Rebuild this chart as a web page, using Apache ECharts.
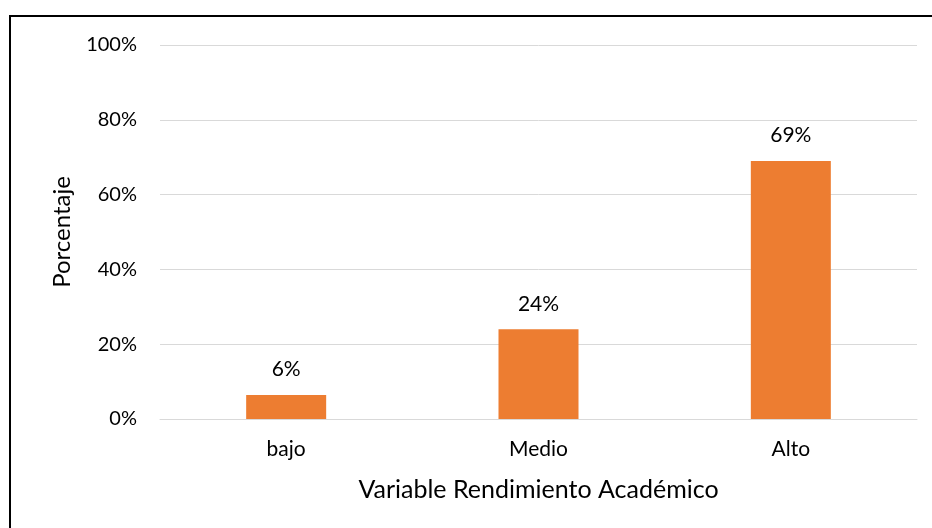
<!DOCTYPE html>
<html><head><meta charset="utf-8">
<script src="https://cdn.jsdelivr.net/npm/echarts@6/dist/echarts.min.js"></script>
<style>html,body{margin:0;padding:0;background:#fff}#c{width:932px;height:528px}</style>
</head><body><div id="c"></div>
<script>
const categories = ['bajo', 'Medio', 'Alto'];
const values = [6.4, 24, 69];
const yTicks = [0, 20, 40, 60, 80, 100];
const FONT = 'Lato';
const chart = echarts.init(document.getElementById('c'), null, {renderer: 'canvas'});
chart.setOption({
  animation: false,
  backgroundColor: '#fff',
  graphic: [{type: 'rect', shape: {x: 10, y: 16, width: 940, height: 540}, style: {fill: 'none', stroke: '#000', lineWidth: 2}}],
  grid: {left: 160, right: 15, top: 45, bottom: 109},
  xAxis: {
    type: 'category', data: categories,
    axisLine: {show: true, lineStyle: {color: '#d9d9d9', width: 1}},
    axisTick: {show: false},
    axisLabel: {color: '#000', fontFamily: FONT, fontSize: 21, margin: 20},
    name: 'Variable Rendimiento Académico', nameLocation: 'middle', nameGap: 58,
    nameTextStyle: {color: '#000', fontFamily: FONT, fontSize: 25}
  },
  yAxis: {
    type: 'value', min: 0, max: 100, interval: 20,
    axisLine: {show: false}, axisTick: {show: false},
    splitLine: {lineStyle: {color: '#d9d9d9', width: 1}},
    axisLabel: {color: '#000', fontFamily: FONT, fontSize: 20, margin: 23, formatter: v => yTicks.includes(v) ? v + '%' : ''},
    name: 'Porcentaje', nameLocation: 'middle', nameGap: 86,
    nameTextStyle: {color: '#000', fontFamily: FONT, fontSize: 24}
  },
  series: [{
    type: 'bar', data: values, barWidth: 80,
    itemStyle: {color: '#ED7D31'},
    label: {show: true, position: 'top', distance: 15, color: '#000', fontFamily: FONT, fontSize: 21,
      formatter: p => Math.round(p.value) + '%'}
  }]
});
</script></body></html>
